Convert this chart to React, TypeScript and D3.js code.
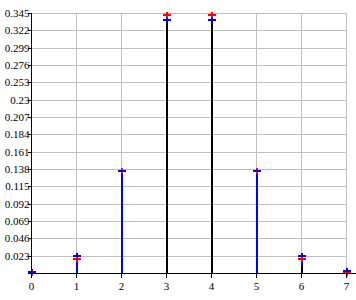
import React from "react";
import * as d3 from "d3";

const xValues = [0, 1, 2, 3, 4, 5, 6, 7];
const blueValues = [0.003, 0.0238, 0.1365, 0.3377, 0.3377, 0.1365, 0.0238, 0.004];
const redValues = [0.0012, 0.0205, 0.1365, 0.3437, 0.3437, 0.1365, 0.0205, 0.0018];
const blackValues = [0, 0, 0, 0.333, 0.333, 0, 0.0106, 0];
const yTicks = [0.023, 0.046, 0.069, 0.092, 0.115, 0.138, 0.161, 0.184, 0.207, 0.23, 0.253, 0.276, 0.299, 0.322, 0.345];
const xTicks = [0, 1, 2, 3, 4, 5, 6, 7];

const W = 356;
const H = 300;

export default function App() {
  const x = d3.scaleLinear().domain([0, 7]).range([31, 346]);
  const y = d3.scaleLinear().domain([0, 0.345]).range([273, 13]);
  const font = "'Liberation Serif', 'DejaVu Serif', serif";
  const px = (v: number) => Math.round(x(v)) + 0.5;
  const py = (v: number) => Math.round(y(v)) + 0.5;
  const sx = (v: number) => Math.round(x(v)) + 1;

  return (
    <div style={{ position: "fixed", left: 0, top: 0, width: W, height: H, background: "#fff" }}>
      <svg width={W} height={H} style={{ display: "block" }} shapeRendering="crispEdges">
        <rect width={W} height={H} fill="#fff" />
        {/* grid */}
        {yTicks.map((t) => (
          <line key={"gy" + t} x1={px(0)} x2={px(7)} y1={py(t)} y2={py(t)} stroke="#c0c0c0" strokeWidth={1} />
        ))}
        {xTicks.filter((t) => t > 0).map((t) => (
          <line key={"gx" + t} x1={px(t)} x2={px(t)} y1={py(0.345)} y2={py(0)} stroke="#c0c0c0" strokeWidth={1} />
        ))}
        {/* blue stems */}
        {xValues.map((v, i) => (
          <line key={"bs" + i} x1={sx(v)} x2={sx(v)} y1={py(blueValues[i]) - 3} y2={py(0)} stroke="#0000ff" strokeWidth={2} />
        ))}
        {/* black stems */}
        {xValues.map((v, i) =>
          blackValues[i] > 0 ? (
            <line key={"ks" + i} x1={sx(v)} x2={sx(v)} y1={py(blackValues[i])} y2={py(0)} stroke="#000" strokeWidth={2} />
          ) : null
        )}
        {/* red crosses */}
        {xValues.map((v, i) => (
          <g key={"rc" + i}>
            <line x1={sx(v) - 4} x2={sx(v) + 4} y1={py(redValues[i])} y2={py(redValues[i])} stroke="#ff0000" strokeWidth={2} />
            <line x1={sx(v)} x2={sx(v)} y1={py(redValues[i]) - 3} y2={py(redValues[i]) + 3} stroke="#ff0000" strokeWidth={2} />
          </g>
        ))}
        {/* blue crosses */}
        {xValues.map((v, i) => (
          <line key={"bc" + i} x1={sx(v) - 4} x2={sx(v) + 4} y1={py(blueValues[i])} y2={py(blueValues[i])} stroke="#0000ff" strokeWidth={2} />
        ))}
        {/* axes */}
        <line x1={px(0)} x2={px(0)} y1={py(0.345)} y2={py(0) + 3} stroke="#000" strokeWidth={1.5} />
        <line x1={px(0) - 4} x2={W} y1={py(0)} y2={py(0)} stroke="#000" strokeWidth={1.5} />
        {yTicks.map((t) => (
          <g key={"yt" + t}>
            <line x1={px(0) - 4} x2={px(0)} y1={py(t)} y2={py(t)} stroke="#000" strokeWidth={1} />
            <text x={px(0) - 2} y={py(t)} dy="0.35em" textAnchor="end" fontFamily={font} fontSize={11} fill="#000">
              {String(t)}
            </text>
          </g>
        ))}
        {xTicks.map((t) => (
          <g key={"xt" + t}>
            <line x1={px(t)} x2={px(t)} y1={py(0)} y2={py(0) + 4} stroke="#000" strokeWidth={1} />
            <text x={px(t)} y={py(0) + 16} textAnchor="middle" fontFamily={font} fontSize={11} fill="#000">
              {String(t)}
            </text>
          </g>
        ))}
      </svg>
    </div>
  );
}
